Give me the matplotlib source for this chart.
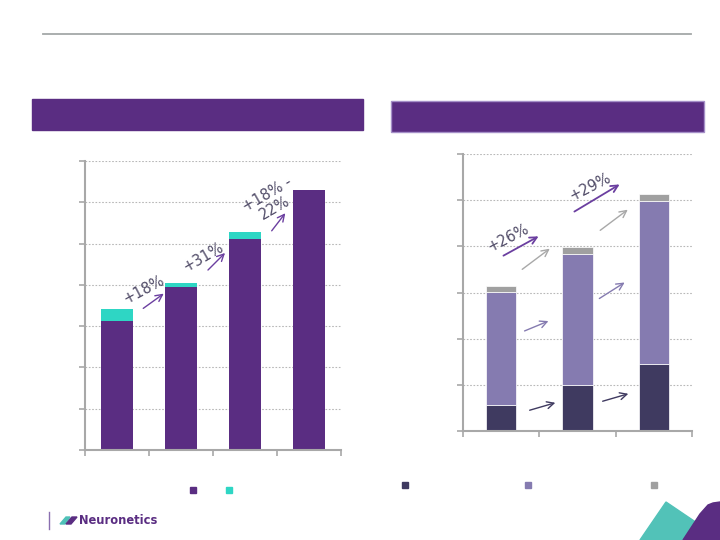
import matplotlib.pyplot as plt
from matplotlib.patches import Rectangle, Polygon, FancyArrowPatch
import numpy as np

W, H = 720, 540

# left chart: stacked bars (values in gridline units)
left_cats = ["A", "B", "C", "D"]
left_base = [3.12, 3.95, 5.11, 6.29]
left_top = [0.29, 0.09, 0.17, 0.0]

# right chart: three stacked segments
right_cats = ["A", "B", "C"]
right_dark = [0.56, 1.00, 1.46]
right_mid = [2.45, 2.84, 3.52]
right_gray = [0.14, 0.14, 0.16]

PURPLE = "#5A2D82"
TEAL = "#2ED6C4"
DARK = "#3F3A60"
MID = "#857BB0"
GRAY = "#A0A0A0"
ARROW_PURPLE = "#6B3FA0"
TEXT_COL = "#514C68"


def fx(px):
    return px / W


def fy(py):
    return 1 - py / H


def style_axis(ax, n_cats, ymax):
    ax.set_xlim(-0.5, n_cats - 0.5)
    ax.set_ylim(0, ymax)
    ax.set_yticks(np.arange(0, ymax + 1))
    ax.set_xticks(np.arange(-0.5, n_cats))
    ax.set_xticklabels([])
    ax.set_yticklabels([])
    for s in ["top", "right"]:
        ax.spines[s].set_visible(False)
    for s in ["left", "bottom"]:
        ax.spines[s].set_color("#A8A8A8")
        ax.spines[s].set_linewidth(1.5)
    ax.tick_params(axis="both", colors="#A8A8A8", length=4, width=1.2, direction="out")
    ax.yaxis.grid(True, linestyle=(0, (1.5, 1.5)), color="#B8B8B8", linewidth=0.8)
    ax.set_axisbelow(True)


def arrow(fig, x0, y0, x1, y1, color, lw=1.0):
    fig.add_artist(FancyArrowPatch(
        (fx(x0), fy(y0)), (fx(x1), fy(y1)), transform=fig.transFigure,
        arrowstyle="->,head_length=5,head_width=2.5", color=color, lw=lw))


def label(fig, x, y, text, rot):
    fig.text(fx(x), fy(y), text, rotation=rot, ha="center", va="center",
             fontsize=10.5, color=TEXT_COL, rotation_mode="anchor",
             linespacing=1.0)


fig = plt.figure(figsize=(7.2, 5.4), dpi=100)

# header rule and title boxes
fig.add_artist(plt.Line2D([fx(43), fx(691)], [fy(34), fy(34)], color="#A4A8A8", lw=1.3))
fig.add_artist(Rectangle((fx(32), fy(130)), fx(331), 31 / H, color=PURPLE, transform=fig.transFigure))
fig.add_artist(Rectangle((fx(391), fy(132)), fx(313), 31 / H, facecolor=PURPLE,
                         edgecolor="#A58FC8", lw=1.0, transform=fig.transFigure))

# left chart
ax1 = fig.add_axes([fx(85), fy(450), 256 / W, 289 / H])
x1 = np.arange(len(left_cats))
ax1.bar(x1, left_base, width=0.5, color=PURPLE)
ax1.bar(x1, left_top, width=0.5, bottom=left_base, color=TEAL)
style_axis(ax1, len(left_cats), 7)

# right chart
ax2 = fig.add_axes([fx(463), fy(431), 229 / W, 277 / H])
x2 = np.arange(len(right_cats))
mid_bottom = np.array(right_dark)
gray_bottom = mid_bottom + np.array(right_mid)
ax2.bar(x2, right_dark, width=0.4, color=DARK, edgecolor="white", linewidth=0.5)
ax2.bar(x2, right_mid, width=0.4, bottom=mid_bottom, color=MID, edgecolor="white", linewidth=0.5)
ax2.bar(x2, right_gray, width=0.4, bottom=gray_bottom, color=GRAY, edgecolor="white", linewidth=0.5)
style_axis(ax2, len(right_cats), 6)

# growth arrows, left
arrow(fig, 141, 310, 166, 292, ARROW_PURPLE)
label(fig, 144, 290, "+18%", 28)
arrow(fig, 206, 272, 227, 251, ARROW_PURPLE)
label(fig, 203, 257, "+31%", 30)
arrow(fig, 270, 233, 287, 211, ARROW_PURPLE)
label(fig, 271, 201, "+18% -\n22%", 30)

# growth arrows, right
arrow(fig, 501, 257, 541, 235, ARROW_PURPLE, 1.3)
label(fig, 508, 238, "+26%", 27)
arrow(fig, 572, 213, 622, 183, ARROW_PURPLE, 1.3)
label(fig, 590, 187, "+29%", 27)
arrow(fig, 520, 271, 552, 247, "#A8A8A8")
arrow(fig, 598, 232, 630, 208, "#A8A8A8")
arrow(fig, 522, 332, 551, 320, MID)
arrow(fig, 597, 300, 627, 281, MID)
arrow(fig, 527, 411, 558, 402, DARK)
arrow(fig, 600, 402, 631, 393, DARK)

# legend swatches
for px, py, c in [(190, 487, PURPLE), (226, 487, TEAL),
                  (402, 482, DARK), (525, 482, MID), (651, 482, GRAY)]:
    fig.add_artist(Rectangle((fx(px), fy(py + 6)), 6 / W, 6 / H, color=c, transform=fig.transFigure))

# footer logo
fig.add_artist(plt.Line2D([fx(49), fx(49)], [fy(512), fy(529)], color="#8A6FB0", lw=1.0))
fig.add_artist(Polygon([(fx(60), fy(524)), (fx(66), fy(517)), (fx(70), fy(517)), (fx(65), fy(524))],
                       color="#4FC1B8", transform=fig.transFigure))
fig.add_artist(Polygon([(fx(66), fy(524)), (fx(72), fy(517)), (fx(77), fy(517)), (fx(71), fy(524))],
                       color=PURPLE, transform=fig.transFigure))
fig.text(fx(79), fy(521), "Neuronetics", fontsize=8.3, color=PURPLE, va="center", ha="left",
         fontweight="semibold")

# corner shapes
fig.add_artist(Polygon([(fx(640), fy(540)), (fx(666), fy(502)), (fx(700), fy(525)), (fx(712), fy(540))],
                       color="#52C2B8", transform=fig.transFigure))
fig.add_artist(Polygon([(fx(683), fy(540)), (fx(700), fy(514)), (fx(708), fy(505)), (fx(713), fy(503)),
                        (fx(720), fy(502)), (fx(720), fy(540))],
                       color=PURPLE, transform=fig.transFigure))

plt.savefig("out.png", dpi=100)
plt.close(fig)
